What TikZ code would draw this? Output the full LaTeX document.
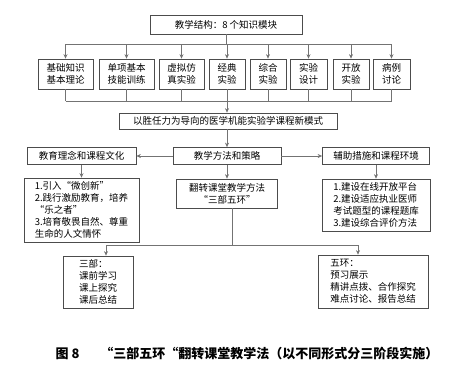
\documentclass[tikz,border=0pt]{standalone}
\usepackage{fontspec}
\setmainfont{Noto Sans CJK SC}
\usetikzlibrary{arrows.meta}
\begin{document}
\begin{tikzpicture}[x=1pt, y=-1pt,
  box/.style={draw=black!70, line width=0.7pt, inner sep=1pt, font=\fontsize{9.5}{12}\selectfont},
  wire/.style={draw=black!55, line width=0.7pt},
  >={Stealth[length=4.5pt,width=4pt]}]
\useasboundingbox (0,0) rectangle (465,373);
% top module box and the eight knowledge modules
\node[box, minimum width=152pt, minimum height=19pt] (struct) at (226,24.5) {教学结构：8 个知识模块};
\node[box, align=center, minimum width=55pt, minimum height=30pt] (m1) at (65.5,74) {基础知识\\基本理论};
\node[box, align=center, minimum width=55pt, minimum height=30pt] (m2) at (126.5,74) {单项基本\\技能训练};
\node[box, align=center, minimum width=45pt, minimum height=30pt] (m3) at (181.5,74) {虚拟仿\\真实验};
\node[box, align=center, minimum width=36pt, minimum height=30pt] (m4) at (227,74) {经典\\实验};
\node[box, align=center, minimum width=36pt, minimum height=30pt] (m5) at (268,74) {综合\\实验};
\node[box, align=center, minimum width=37pt, minimum height=30pt] (m6) at (308.5,74) {实验\\设计};
\node[box, align=center, minimum width=36pt, minimum height=30pt] (m7) at (351,74) {开放\\实验};
\node[box, align=center, minimum width=37pt, minimum height=30pt] (m8) at (391.5,74) {病例\\讨论};
\node[box, minimum width=218pt, minimum height=16pt] (mode) at (228,121) {以胜任力为导向的医学机能实验学课程新模式};
% three branches
\node[box, minimum width=109pt, minimum height=17pt] (ideas) at (81.5,156) {教育理念和课程文化};
\node[box, minimum width=108pt, minimum height=17pt] (method) at (227,156) {教学方法和策略};
\node[box, minimum width=107pt, minimum height=17pt] (support) at (376,156) {辅助措施和课程环境};
\node[box, align=left, minimum width=115pt, minimum height=64pt] (ideasD) at (81.5,210)
{1.引入“微创新”\\2.践行激励教育，培养\\“乐之者”\\3.培育敬畏自然、尊重\\生命的人文情怀};
\node[box, align=center, minimum width=101pt, minimum height=29pt] (methodD) at (227,193.5)
{翻转课堂教学方法\\“三部五环”};
\node[box, align=left, minimum width=108pt, minimum height=52pt] (supportD) at (376,205)
{1.建设在线开放平台\\2.建设适应执业医师\\考试题型的课程题库\\3.建设综合评价方法};
\node[box, align=left, minimum width=70pt, minimum height=52pt] (three) at (98,282)
{三部：\\课前学习\\课上探究\\课后总结};
\node[box, align=left, minimum width=110pt, minimum height=53pt] (five) at (373,281.5)
{五环：\\预习展示\\精讲点拨、合作探究\\难点讨论、报告总结};
\node[font=\fontsize{13}{15}\selectfont\bfseries] (caption) at (247,354)
{图 8\hspace{1.6em}“三部五环“翻转课堂教学法（以不同形式分三阶段实施）};
% buses
\coordinate (busA) at (0,44);
\coordinate (busB) at (0,101);
\coordinate (threeIn) at (106,245);
\coordinate (fiveIn) at (358,245);
\draw[wire] (struct) -- (struct |- busA);
\draw[wire] (m1 |- busA) -- (m8 |- busA);
\foreach \m in {m1,m2,m3,m4,m5,m6,m7,m8}
  \draw[wire,->] (\m |- busA) -- (\m);
\foreach \m in {m1,m2,m3,m4,m5,m6,m7,m8}
  \draw[wire] (\m) -- (\m |- busB);
\draw[wire] (m1 |- busB) -- (m8 |- busB);
\draw[wire,->] (m4 |- busB) -- (mode.north -| m4);
\draw[wire,->] (mode.south -| method) -- (method);
\draw[wire,->] (method) -- (ideas);
\draw[wire,->] (method) -- (support);
\draw[wire,->] (ideas) -- (ideasD);
\draw[wire,->] (method) -- (methodD);
\draw[wire,->] (support) -- (supportD);
\draw[wire] ([xshift=5pt]methodD.south) -- ([xshift=5pt]methodD.south |- threeIn);
\draw[wire] (threeIn) -- (fiveIn);
\draw[wire,->] (threeIn) -- (threeIn |- three.north);
\draw[wire,->] (fiveIn) -- (fiveIn |- five.north);
\end{tikzpicture}
\end{document}
